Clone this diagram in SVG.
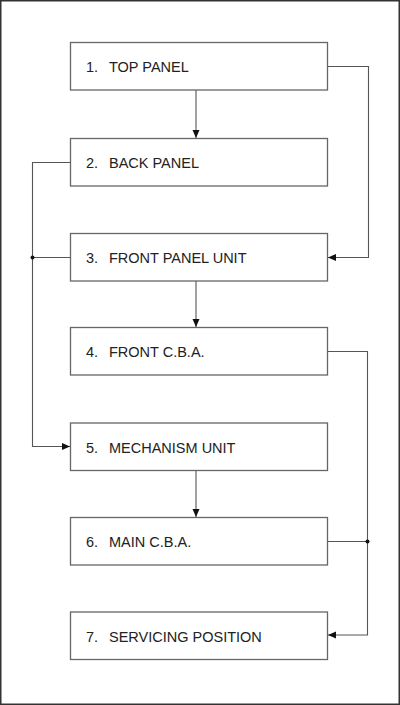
<svg xmlns="http://www.w3.org/2000/svg" width="400" height="705" viewBox="0 0 400 705">
<style>
.box{fill:#fff;stroke:#666;stroke-width:1.3}
.t{font-family:"Liberation Sans",Arial,sans-serif;font-size:14.5px;fill:#222}
.c{fill:none;stroke:#555;stroke-width:1.1}
.dot{fill:#111}
</style>
<defs>
<marker id="ah" viewBox="0 0 8 8" refX="8" refY="4" markerWidth="8" markerHeight="8" markerUnits="userSpaceOnUse" orient="auto">
<path d="M0,0.5 L8,4 L0,7.5 Z" fill="#111"/>
</marker>
</defs>
<rect x="0.75" y="0.75" width="398.5" height="703.5" fill="#fff" stroke="#333" stroke-width="1.5"/>
<g id="connectors">
<path class="c" d="M196,90 V138" marker-end="url(#ah)"/>
<path class="c" d="M328,66.5 H368.5 V257.5 H328" marker-end="url(#ah)"/>
<path class="c" d="M70,162.5 H32.5 V446.5 H70" marker-end="url(#ah)"/>
<path class="c" d="M70,257.5 H32.5"/>
<circle class="dot" cx="32.5" cy="257.5" r="2"/>
<path class="c" d="M196,281 V327" marker-end="url(#ah)"/>
<path class="c" d="M328,351.5 H367.5 V635 H328" marker-end="url(#ah)"/>
<path class="c" d="M328,541.5 H367.5"/>
<circle class="dot" cx="367.5" cy="541.5" r="2"/>
<path class="c" d="M196,470.5 V517" marker-end="url(#ah)"/>
</g>
<g id="n1"><rect class="box" x="70.5" y="42.5" width="257" height="47.5"/><text class="t" x="86" y="72">1.</text><text class="t" x="109" y="72">TOP PANEL</text></g>
<g id="n2"><rect class="box" x="70.5" y="138.5" width="257" height="47.5"/><text class="t" x="86" y="168">2.</text><text class="t" x="109" y="168">BACK PANEL</text></g>
<g id="n3"><rect class="box" x="70.5" y="233.5" width="257" height="47.5"/><text class="t" x="86" y="263">3.</text><text class="t" x="109" y="263">FRONT PANEL UNIT</text></g>
<g id="n4"><rect class="box" x="70.5" y="327.5" width="257" height="47.5"/><text class="t" x="86" y="357">4.</text><text class="t" x="109" y="357">FRONT C.B.A.</text></g>
<g id="n5"><rect class="box" x="70.5" y="423" width="257" height="47.5"/><text class="t" x="86" y="452.5">5.</text><text class="t" x="109" y="452.5">MECHANISM UNIT</text></g>
<g id="n6"><rect class="box" x="70.5" y="517.5" width="257" height="47.5"/><text class="t" x="86" y="547">6.</text><text class="t" x="109" y="547">MAIN C.B.A.</text></g>
<g id="n7"><rect class="box" x="70.5" y="612" width="257" height="47.5"/><text class="t" x="86" y="641.5">7.</text><text class="t" x="109" y="641.5">SERVICING POSITION</text></g>
</svg>
